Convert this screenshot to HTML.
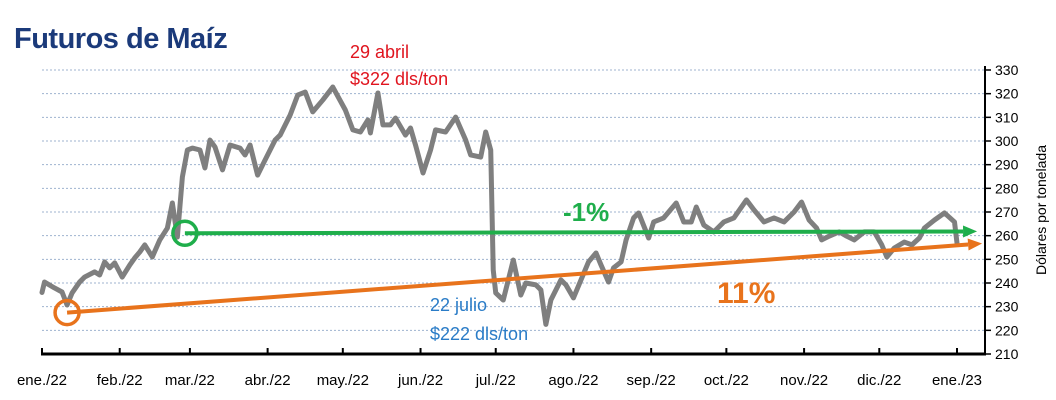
<!DOCTYPE html>
<html><head><meta charset="utf-8"><style>
html,body{margin:0;padding:0;background:#fff;}
svg{display:block;font-family:"Liberation Sans",sans-serif;}
</style></head><body>
<svg id="chart" width="1056" height="400" viewBox="0 0 1056 400">
<text x="14" y="48" font-size="29" font-weight="bold" fill="#1b3a7a" letter-spacing="-0.5">Futuros de Maíz</text>
<g id="grid"></g>
<g id="yaxis"></g>
<g id="xaxis"></g>
<text transform="translate(1046,210) rotate(-90)" text-anchor="middle" font-size="14" fill="#000">Dólares por tonelada</text>
<g id="series"></g>
<text x="350" y="58" font-size="18" fill="#e0141e">29 abril</text>
<text x="350" y="85" font-size="18" fill="#e0141e">$322 dls/ton</text>
<text x="430" y="311" font-size="18" fill="#2a7cc7">22 julio</text>
<text x="430" y="340" font-size="18" fill="#2a7cc7">$222 dls/ton</text>
<text x="563" y="221" font-size="26" font-weight="bold" fill="#1fae4b">-1%</text>
<text x="717" y="303" font-size="30" font-weight="bold" fill="#e8731c">11%</text>
</svg>
<script>
const days=[0,1,5,8,10,12,15,17,21,23,25,27,29,32,35,37,39,41,44,47,50,52,54,56,58,60,63,65,67,69,72,75,79,81,83,86,89,93,95,99,102,105,108,112,116,121,124,127,130,131,134,136,139,141,145,147,149,152,155,157,161,165,169,171,175,177,179,180,181,184,188,191,193,197,199,201,203,207,209,212,215,218,221,223,226,228,231,233,236,238,242,244,248,253,256,259,261,264,268,272,276,281,284,288,292,296,300,303,306,309,311,314,318,321,324,328,332,335,337,340,344,347,350,352,356,360,364,365];
const prices=[236,240.4,237.9,236.2,230.7,235.8,240.4,242.5,244.7,243.4,248.9,246.4,248.5,242.5,247.6,250.6,253.1,256.1,251,258.2,263.2,273.8,259.4,284.8,296.2,297,296.2,288.6,300.4,297.5,287.8,298.3,297,294.1,298.3,285.6,292,300.4,302.5,311,319.4,320.7,312.3,317.3,322.8,313.1,304.7,303.8,308.9,303.4,320.3,306.8,306.8,309.7,302.5,305.5,298.3,286.5,296.2,304.7,303.8,310.1,300.4,294.1,293.2,303.8,296.2,245.5,235.8,232.8,249.7,234.9,240,239.2,237.1,222.5,232.8,241.3,239.2,233.7,241.3,248.9,252.7,247.6,240.4,246.4,248.9,258.2,267.5,269.6,259,265.8,267.5,273.8,265.8,265.8,272.1,264.5,261.6,265.8,267.5,275.1,270.9,265.8,267.5,265.8,270,274.2,266.6,263.2,258.2,259.8,261.6,259.8,258.2,261.6,261.6,256.1,251,254.8,257.3,256.1,259,263.2,266.6,269.6,265.8,256.9];
const monthLabels=["ene./22","feb./22","mar./22","abr./22","may./22","jun./22","jul./22","ago./22","sep./22","oct./22","nov./22","dic./22","ene./23"];
const monthStartDays=[0,31,59,90,120,151,181,212,243,273,304,334,365];
const yTicks=[210,220,230,240,250,260,270,280,290,300,310,320,330];
const greenTrend=[{day:57,value:261},{day:373,value:261.8}];
const orangeTrend=[{day:10,value:227.5},{day:375,value:256.7}];

const NS="http://www.w3.org/2000/svg";
const X0=42,X1=957,Y0=354,Y1=70,YMIN=210,YMAX=330;
const xs=d=>X0+(X1-X0)*d/365;
const ys=v=>Y0-(Y0-Y1)*(v-YMIN)/(YMAX-YMIN);
function mk(tag,attrs,parent){const e=document.createElementNS(NS,tag);for(const k in attrs)e.setAttribute(k,attrs[k]);parent.appendChild(e);return e;}
const grid=document.getElementById('grid'),yax=document.getElementById('yaxis'),xax=document.getElementById('xaxis'),ser=document.getElementById('series');
yTicks.forEach(t=>{
  if(t>YMIN){const g=mk('line',{x1:X0,x2:985,y1:ys(t),y2:ys(t),stroke:'#9fb3cf','stroke-width':1,'stroke-dasharray':'2,2'},grid);
  
  }
  const tk=mk('line',{x1:985,x2:991,y1:ys(t),y2:ys(t),stroke:'#000','stroke-width':1.5},yax);
  
  
  const lb=mk('text',{x:995,y:ys(t)+5,'font-size':14,fill:'#000'},yax);lb.textContent=t;
  
  
});
const ya=mk('line',{x1:985,x2:985,y1:66,y2:Y0+1,stroke:'#000','stroke-width':2},yax);


const xa=mk('line',{x1:X0-1,x2:986,y1:Y0,y2:Y0,stroke:'#000','stroke-width':3},xax);


monthStartDays.forEach((d,i)=>{
  const tk=mk('line',{x1:xs(d),x2:xs(d),y1:Y0-6,y2:Y0,stroke:'#000','stroke-width':2},xax);
  
  
  const lb=mk('text',{x:xs(d),y:385,'font-size':15,'text-anchor':'middle',fill:'#000'},xax);lb.textContent=monthLabels[i];
  
  
});
function trend(tr,color,name){
  const a=tr[0],b=tr[1];
  const x1=xs(a.day),y1=ys(a.value),x2=xs(b.day),y2=ys(b.value);
  const ang=Math.atan2(y2-y1,x2-x1),L=14,W=6;
  const ln=mk('line',{x1:x1,y1:y1,x2:x2-L*Math.cos(ang),y2:y2-L*Math.sin(ang),stroke:color,'stroke-width':4},ser);
  
  
  const p=[[x2,y2],[x2-L*Math.cos(ang)-W*Math.sin(ang),y2-L*Math.sin(ang)+W*Math.cos(ang)],[x2-L*Math.cos(ang)+W*Math.sin(ang),y2-L*Math.sin(ang)-W*Math.cos(ang)]];
  const ah=mk('polygon',{points:p.map(q=>q.join(',')).join(' '),fill:color},ser);
  
  
  const c=mk('circle',{cx:x1,cy:y1,r:12,fill:'none',stroke:color,'stroke-width':3.5},ser);
  
  
}
const pl=mk('polyline',{points:days.map((d,i)=>xs(d)+','+ys(prices[i])).join(' '),fill:'none',stroke:'#7f7f7f','stroke-width':5,'stroke-linejoin':'round','stroke-linecap':'round'},ser);


trend(orangeTrend,'#e8731c','orange');
trend(greenTrend,'#1fae4b','green');
</script>
</body></html>
